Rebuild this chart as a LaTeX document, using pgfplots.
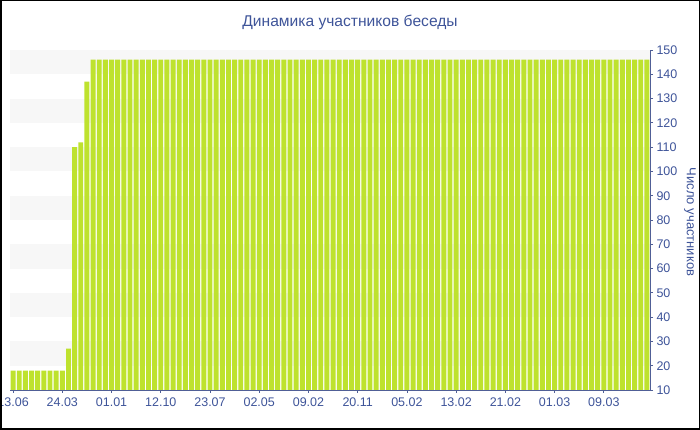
\documentclass[border=0pt]{standalone}
\usepackage{pgfplots}
\pgfplotsset{compat=1.18}
\usepackage{pgfplotstable}
\usepackage{fontspec}
\setmainfont{Liberation Sans}

\definecolor{txtblue}{RGB}{62,84,153}
\definecolor{axblue}{RGB}{80,95,150}
\definecolor{barlime}{RGB}{190,226,46}
\definecolor{band}{RGB}{247,247,247}

% число участников по дням (104 столбца)
\pgfplotstableread{
x y
0 18
1 18
2 18
3 18
4 18
5 18
6 18
7 18
8 18
9 27
10 110
11 112
12 137
13 146
14 146
15 146
16 146
17 146
18 146
19 146
20 146
21 146
22 146
23 146
24 146
25 146
26 146
27 146
28 146
29 146
30 146
31 146
32 146
33 146
34 146
35 146
36 146
37 146
38 146
39 146
40 146
41 146
42 146
43 146
44 146
45 146
46 146
47 146
48 146
49 146
50 146
51 146
52 146
53 146
54 146
55 146
56 146
57 146
58 146
59 146
60 146
61 146
62 146
63 146
64 146
65 146
66 146
67 146
68 146
69 146
70 146
71 146
72 146
73 146
74 146
75 146
76 146
77 146
78 146
79 146
80 146
81 146
82 146
83 146
84 146
85 146
86 146
87 146
88 146
89 146
90 146
91 146
92 146
93 146
94 146
95 146
96 146
97 146
98 146
99 146
100 146
101 146
102 146
103 146
}\members

\begin{document}
\begin{tikzpicture}[x=1pt,y=1pt]
\useasboundingbox (0,0) rectangle (700,430);
\begin{axis}[
  at={(10pt,40pt)}, anchor=south west,
  scale only axis,
  width=640pt, height=340pt,
  xmin=-0.5, xmax=103.5,
  ymin=10, ymax=150,
  axis x line=bottom,
  axis y line=right,
  axis line style={-, color=axblue, line width=0.8pt},
  xtick={0,8,...,96},
  xticklabels={13.06,24.03,01.01,12.10,23.07,02.05,09.02,20.11,05.02,13.02,21.02,01.03,09.03},
  ytick={10,20,...,150},
  tick align=outside,
  major tick length=3pt,
  tick style={color=axblue, line width=0.8pt},
  ticklabel style={font=\fontsize{12.5}{15}\selectfont, text=txtblue},
  xticklabel style={yshift=-1pt},
  /pgf/number format/assume math mode=true,
  ylabel near ticks,
  ylabel={Число участников},
  every axis y label/.append style={rotate=180, font=\fontsize{13}{15}\selectfont, color=txtblue, xshift=2pt},
  axis on top,
  clip=false,
]
\pgfplotsinvokeforeach{20,40,...,140}{
  \fill[band] (axis cs:-0.5,#1) rectangle (axis cs:103.5,#1+10);
}
\addplot[ybar, bar width=0.8, bar shift=0pt, fill=barlime, draw=none] table[x=x,y=y] {\members};
\end{axis}
\node[text=txtblue, font=\fontsize{15.6}{18}\selectfont] at (350,408) {Динамика участников беседы};
\draw[line width=1.5pt] (0.75,0.75) rectangle (699.25,429.25);
\end{tikzpicture}
\end{document}
